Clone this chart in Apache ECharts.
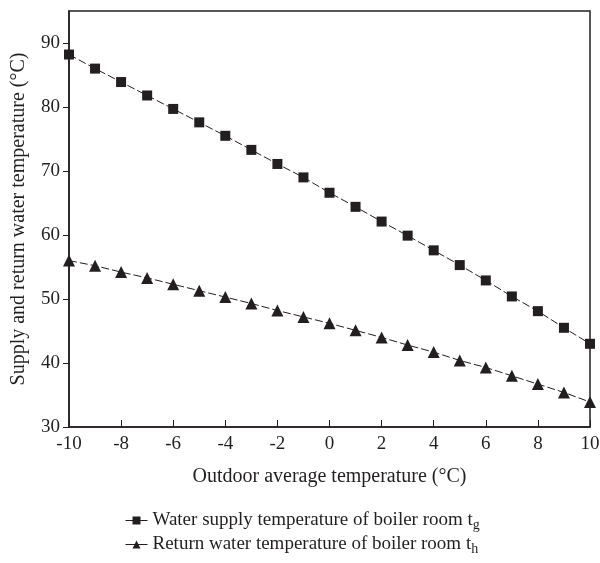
<!DOCTYPE html>
<html>
<head>
<meta charset="utf-8">
<script src="https://cdn.jsdelivr.net/npm/echarts@6/dist/echarts.min.js"></script>
<style>
  html, body { margin: 0; padding: 0; background: #fff; }
  #main { width: 600px; height: 563px; }
</style>
</head>
<body>
<div id="main"></div>
<script>
const chart = echarts.init(document.getElementById("main"));

// outdoor temperature (°C)
const outdoorTemp = [-10, -9, -8, -7, -6, -5, -4, -3, -2, -1, 0, 1, 2, 3, 4, 5, 6, 7, 8, 9, 10];
// supply water temperature t_g
const supplyTemp = [88.2, 86.0, 83.9, 81.8, 79.7, 77.6, 75.5, 73.3, 71.1, 69.0, 66.6, 64.4, 62.1, 59.9, 57.6, 55.3, 52.9, 50.4, 48.1, 45.5, 43.0];
// return water temperature t_h
const returnTemp = [56.0, 55.2, 54.2, 53.3, 52.3, 51.3, 50.3, 49.3, 48.2, 47.2, 46.2, 45.1, 44.0, 42.8, 41.7, 40.4, 39.3, 38.0, 36.7, 35.4, 33.9];

const seriesNames = ["Water supply temperature of boiler room t", "Return water temperature of boiler room t"];
const subscripts = ["g", "h"];

const font = "Liberation Serif";
const ink = "#231f20";

const toPairs = (ys) => outdoorTemp.map((x, i) => [x, ys[i]]);

// one legend per row so each row sits where the reference has it
const legendRow = (i, top) => ({
  data: [seriesNames[i]],
  orient: "vertical",
  left: 120,
  top: top,
  itemWidth: 22,
  itemHeight: 10,
  itemGap: 0,
  lineStyle: { type: "solid", width: 1 },
  textStyle: {
    fontFamily: font, fontSize: 19, color: ink,
    rich: { sub: { fontFamily: font, fontSize: 14, padding: [9, 0, 0, 0] } }
  },
  formatter: (name) => name + "{sub|" + subscripts[i] + "}"
});

const option = {
  backgroundColor: "#fff",
  textStyle: { fontFamily: font, color: ink },
  grid: {
    left: 69, right: 10, top: 11, bottom: 136,
    outerBoundsMode: "none", containLabel: false,
    show: true, borderColor: ink, borderWidth: 1.5
  },
  legend: [legendRow(0, 506), legendRow(1, 530)],
  xAxis: {
    type: "value",
    min: -10,
    max: 10,
    interval: 2,
    name: "Outdoor average temperature (°C)",
    nameLocation: "middle",
    nameGap: 40,
    nameTextStyle: { fontFamily: font, fontSize: 20, color: ink },
    axisLine: { onZero: false, lineStyle: { color: ink, width: 1.5 } },
    axisTick: { inside: true, length: 7, lineStyle: { color: ink } },
    axisLabel: { fontFamily: font, fontSize: 19, color: ink, margin: 8 },
    splitLine: { show: false }
  },
  yAxis: {
    type: "value",
    min: 30,
    max: 95,
    interval: 10,
    name: "Supply and return water temperature (°C)",
    nameLocation: "middle",
    nameGap: 40,
    nameTextStyle: { fontFamily: font, fontSize: 20, color: ink },
    axisLine: { onZero: false, lineStyle: { color: ink, width: 1.5 } },
    axisTick: { length: 6, lineStyle: { color: ink } },
    axisLabel: { fontFamily: font, fontSize: 19, color: ink, margin: 9, showMaxLabel: false },
    splitLine: { show: false }
  },
  series: [
    {
      name: seriesNames[0],
      type: "line",
      data: toPairs(supplyTemp),
      symbol: "rect",
      symbolSize: 10,
      itemStyle: { color: ink },
      lineStyle: { color: ink, width: 1, type: [8, 3] }
    },
    {
      name: seriesNames[1],
      type: "line",
      data: toPairs(returnTemp),
      symbol: "triangle",
      symbolSize: 12,
      itemStyle: { color: ink },
      lineStyle: { color: ink, width: 1, type: [8, 3] }
    }
  ]
};

chart.setOption(option);
</script>
</body>
</html>
